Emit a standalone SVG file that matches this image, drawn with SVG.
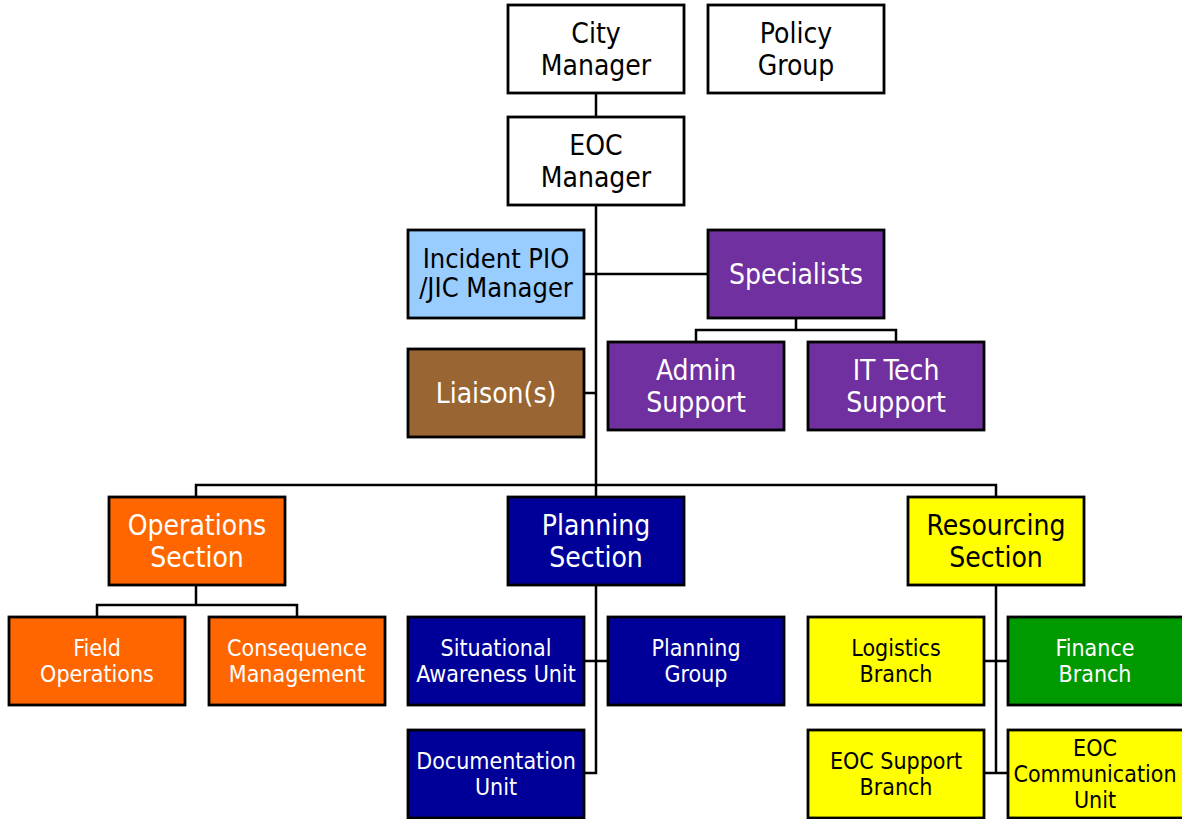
<svg xmlns="http://www.w3.org/2000/svg" width="1182" height="819" viewBox="0 0 1182 819">
<style>
rect{stroke:#000;stroke-width:2.8}
.w{fill:#fff}.lb{fill:#99CCFF}.pu{fill:#7030A0}.br{fill:#996633}.or{fill:#FF6600}.nv{fill:#000099}.ye{fill:#FFFF00}.gr{fill:#009900}
text{font-family:"DejaVu Sans Condensed","DejaVu Sans",sans-serif;font-stretch:condensed;text-anchor:middle}
.L{font-size:28px}.M{font-size:27px}.S{font-size:23px}
.tw{fill:#fff}.tb{fill:#000}
.c{fill:none;stroke:#000;stroke-width:2.5}
</style>
<rect width="1182" height="819" fill="#fff" style="stroke:none"/>
<g id="connectors" class="c">
<path d="M596 93V117"/>
<path d="M596 205V497"/>
<path d="M584 274H708"/>
<path d="M584 393H596"/>
<path d="M796 318V330M696 342V330H896V342"/>
<path d="M196 497V485H996V497"/>
<path d="M196 585V605M97 617V605H297V617"/>
<path d="M596 585V773H584M584 661H608"/>
<path d="M996 585V773M984 661H1008M984 773H1008"/>
</g>
<g id="city-manager"><rect class="w" x="508" y="5" width="176" height="88"/><text class="L tb" x="596" y="43">City</text><text class="L tb" x="596" y="75">Manager</text></g>
<g id="policy-group"><rect class="w" x="708" y="5" width="176" height="88"/><text class="L tb" x="796" y="43">Policy</text><text class="L tb" x="796" y="75">Group</text></g>
<g id="eoc-manager"><rect class="w" x="508" y="117" width="176" height="88"/><text class="L tb" x="596" y="155">EOC</text><text class="L tb" x="596" y="187">Manager</text></g>
<g id="incident-pio"><rect class="lb" x="408" y="230" width="176" height="88"/><text class="M tb" x="496" y="268">Incident PIO</text><text class="M tb" x="496" y="297">/JIC Manager</text></g>
<g id="specialists"><rect class="pu" x="708" y="230" width="176" height="88"/><text class="L tw" x="796" y="284">Specialists</text></g>
<g id="admin-support"><rect class="pu" x="608" y="342" width="176" height="88"/><text class="L tw" x="696" y="380">Admin</text><text class="L tw" x="696" y="412">Support</text></g>
<g id="it-tech-support"><rect class="pu" x="808" y="342" width="176" height="88"/><text class="L tw" x="896" y="380">IT Tech</text><text class="L tw" x="896" y="412">Support</text></g>
<g id="liaisons"><rect class="br" x="408" y="349" width="176" height="88"/><text class="L tw" x="496" y="403">Liaison(s)</text></g>
<g id="operations-section"><rect class="or" x="109" y="497" width="176" height="88"/><text class="L tw" x="197" y="535">Operations</text><text class="L tw" x="197" y="567">Section</text></g>
<g id="planning-section"><rect class="nv" x="508" y="497" width="176" height="88"/><text class="L tw" x="596" y="535">Planning</text><text class="L tw" x="596" y="567">Section</text></g>
<g id="resourcing-section"><rect class="ye" x="908" y="497" width="176" height="88"/><text class="L tb" x="996" y="535">Resourcing</text><text class="L tb" x="996" y="567">Section</text></g>
<g id="field-operations"><rect class="or" x="9" y="617" width="176" height="88"/><text class="S tw" x="97" y="656">Field</text><text class="S tw" x="97" y="682">Operations</text></g>
<g id="consequence-management"><rect class="or" x="209" y="617" width="176" height="88"/><text class="S tw" x="297" y="656">Consequence</text><text class="S tw" x="297" y="682">Management</text></g>
<g id="situational-awareness"><rect class="nv" x="408" y="617" width="176" height="88"/><text class="S tw" x="496" y="656">Situational</text><text class="S tw" x="496" y="682">Awareness Unit</text></g>
<g id="planning-group"><rect class="nv" x="608" y="617" width="176" height="88"/><text class="S tw" x="696" y="656">Planning</text><text class="S tw" x="696" y="682">Group</text></g>
<g id="documentation-unit"><rect class="nv" x="408" y="730" width="176" height="88"/><text class="S tw" x="496" y="769">Documentation</text><text class="S tw" x="496" y="795">Unit</text></g>
<g id="logistics-branch"><rect class="ye" x="808" y="617" width="176" height="88"/><text class="S tb" x="896" y="656">Logistics</text><text class="S tb" x="896" y="682">Branch</text></g>
<g id="finance-branch"><rect class="gr" x="1008" y="617" width="176" height="88"/><text class="S tw" x="1095" y="656">Finance</text><text class="S tw" x="1095" y="682">Branch</text></g>
<g id="eoc-support-branch"><rect class="ye" x="808" y="730" width="176" height="88"/><text class="S tb" x="896" y="769">EOC Support</text><text class="S tb" x="896" y="795">Branch</text></g>
<g id="eoc-communication-unit"><rect class="ye" x="1008" y="730" width="176" height="88"/><text class="S tb" x="1095" y="756">EOC</text><text class="S tb" x="1095" y="782">Communication</text><text class="S tb" x="1095" y="808">Unit</text></g>
</svg>
